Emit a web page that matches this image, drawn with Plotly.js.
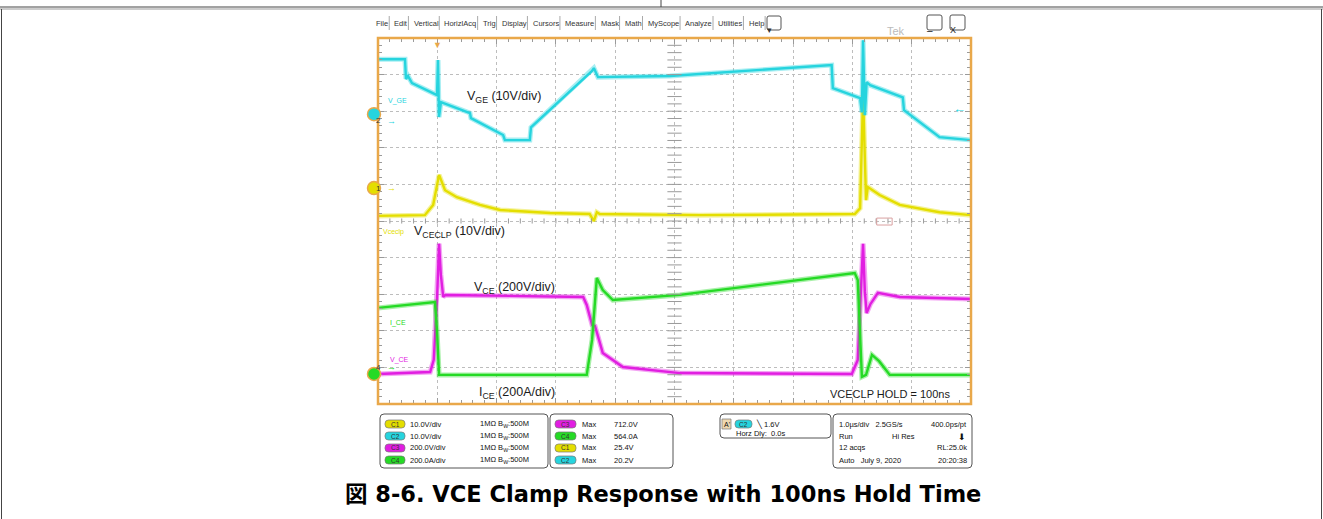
<!DOCTYPE html>
<html><head><meta charset="utf-8">
<script src="https://cdn.plot.ly/plotly-3.0.1.min.js"></script>
<style>html,body{margin:0;padding:0;background:#fff;}#chart{width:1323px;height:519px;}</style>
</head><body><div id="chart"></div>
<script>
// ---------------- data ----------------
// horizontal: 1.0 us/div, trigger one division from the left edge
const timeRange = [-1, 9];
// channels: C1 = Vceclp, C2 = V_GE, C3 = V_CE, C4 = I_CE
const channelNames   = ['1', '2', '3', '4'];
const channelLabels  = ['Vceclp', 'V_GE', 'V_CE', 'I_CE'];
const channelScales  = [10, 10, 200, 200];          // units per division
const channelOffsets = [0.90, 2.92, -4.18, -4.18];  // ground position (div from centre)
const channelColors  = ['#E4DE00', '#26D4DE', '#E11EE1', '#25DA25'];
const triggerLevel = 1.6; // V on C2

// C2: V_GE (V)
const vgeTime  = [-1.0, -0.545, -0.528, -0.494, -0.427, -0.005, 0.012, 0.029, 0.062, 0.551, 0.568, 1.11, 1.14, 1.56, 1.58, 2.61, 2.64, 2.71, 3.92, 6.65, 6.67, 7.13, 7.16, 7.18, 7.21, 7.24, 7.30, 7.85, 7.87, 8.47, 9.0];
const vgeVolts = [15.0, 15.0, 9.6, 10.4, 8.5, 5.2, 14.8, -0.8, 3.3, 0.3, -1.1, -5.7, -7.1, -7.1, -3.6, 11.8, 12.6, 10.1, 10.4, 13.4, 7.1, 4.4, 0.5, 20.2, -0.3, 8.7, 7.9, 4.6, 1.1, -6.3, -7.1];
// C1: V_CECLP (V)
const vclpTime  = [-1.0, -0.21, -0.07, 0.03, 0.13, 0.33, 0.72, 1.06, 1.90, 2.57, 2.64, 2.69, 2.74, 4.43, 7.04, 7.13, 7.18, 7.23, 7.26, 7.46, 7.80, 8.47, 9.0];
const vclpVolts = [-7.6, -7.4, -4.6, 3.6, -0.6, -2.5, -4.6, -6.0, -6.8, -7.1, -9.0, -6.6, -7.1, -7.4, -7.1, -5.5, 25.4, -3.3, 0.3, -1.9, -4.6, -6.6, -7.4];
// C3: V_CE (V)
const vceTime  = [-1.0, -0.12, -0.06, -0.005, 0.03, 0.06, 0.10, 0.14, 2.46, 2.52, 2.61, 2.66, 2.79, 3.13, 4.09, 6.99, 7.09, 7.18, 7.21, 7.24, 7.30, 7.43, 7.80, 9.0];
const vceVolts = [0, 11, 77, 404, 712, 541, 421, 432, 421, 377, 268, 262, 115, 38, 5, 0, 77, 712, 450, 333, 380, 443, 421, 410];
// C4: I_CE (A)
const iceTime = [-1.0, -0.04, -0.005, 0.03, 2.52, 2.61, 2.69, 2.79, 2.96, 4.09, 7.04, 7.09, 7.16, 7.23, 7.33, 7.45, 7.63, 9.0];
const iceAmps = [361, 393, 240, -5, -5, 186, 525, 459, 404, 432, 552, 514, -16, -5, 104, 70, -5, -5];

// annotation texts
const waveLabels = ['V<sub>GE</sub> (10V/div)', 'V<sub>CECLP</sub> (10V/div)', 'V<sub>CE</sub> (200V/div)', 'I<sub>CE</sub> (200A/div)', 'VCECLP HOLD = 100ns'];
const menuItems = ['File', 'Edit', 'Vertical', 'HorizlAcq', 'Trig', 'Display', 'Cursors', 'Measure', 'Mask', 'Math', 'MyScope', 'Analyze', 'Utilities', 'Help'];
const vertSettings = ['10.0V/div', '10.0V/div', '200.0V/div', '200.0A/div'];
const measChannels = ['C3', 'C4', 'C1', 'C2'];
const measValues = ['712.0V', '564.0A', '25.4V', '20.2V'];
const caption = '図 8-6. VCE Clamp Response with 100ns Hold Time';

// ---------------- layout helpers ----------------
const W = 1323, H = 519, L = 378, R = 971, T = 38, B = 404;
const PX = x => (x - L) / (R - L);
const PY = y => (B - y) / (B - T);
const FONT = 'Liberation Sans, Arial, sans-serif';
const ORANGE = '#E9A84A';

const traces = [];
const axisOf = i => 'y' + (i + 2);
function addWave(t, v, ch) {
  traces.push({x: t, y: v, yaxis: axisOf(ch), type: 'scatter', mode: 'lines', hoverinfo: 'skip',
    line: {color: channelColors[ch], width: 5}, opacity: 0.4});
  traces.push({x: t, y: v, yaxis: axisOf(ch), type: 'scatter', mode: 'lines', hoverinfo: 'skip',
    line: {color: channelColors[ch], width: 2.4}});
}
addWave(vgeTime, vgeVolts, 1);
addWave(vclpTime, vclpVolts, 0);
addWave(vceTime, vceVolts, 2);
addWave(iceTime, iceAmps, 3);

const layout = {
  width: W, height: H, margin: {l: L, r: W - R, t: T, b: H - B, pad: 0},
  paper_bgcolor: '#fff', plot_bgcolor: '#fff', showlegend: false,
  font: {family: FONT, color: '#222'},
  xaxis: {range: timeRange, tick0: 0, dtick: 1, showgrid: true, gridcolor: '#bdbdbd', griddash: 'dot', gridwidth: 1,
    zeroline: false, showticklabels: false, ticks: 'inside', ticklen: 6, tickcolor: '#9a9a9a', mirror: 'ticks', showline: false,
    minor: {tick0: 0, dtick: 0.2, ticks: 'inside', ticklen: 4, tickcolor: '#9a9a9a', showgrid: false}, fixedrange: true},
  yaxis: {range: [-5, 5], tick0: 0, dtick: 1, showgrid: true, gridcolor: '#bdbdbd', griddash: 'dot', gridwidth: 1,
    zeroline: false, showticklabels: false, ticks: 'inside', ticklen: 6, tickcolor: '#9a9a9a', mirror: 'ticks', showline: false,
    minor: {tick0: 0, dtick: 0.2, ticks: 'inside', ticklen: 4, tickcolor: '#9a9a9a', showgrid: false}, fixedrange: true},
  shapes: [], annotations: []
};
channelScales.forEach((s, i) => {
  layout['yaxis' + (i + 2)] = {overlaying: 'y', anchor: 'x', visible: false, fixedrange: true,
    range: [(-5 - channelOffsets[i]) * s, (5 - channelOffsets[i]) * s]};
});

const shapes = layout.shapes, ann = layout.annotations;
// centre crosshair ticks
for (let k = 0; k <= 50; k++) {
  const x = timeRange[0] + k * 0.2;
  shapes.push({type: 'line', xref: 'x', yref: 'y', x0: x, x1: x, y0: -0.07, y1: 0.07, line: {color: '#9a9a9a', width: 1}});
  const y = -5 + k * 0.2;
  shapes.push({type: 'line', xref: 'x', yref: 'y', x0: 3.88, x1: 4.12, y0: y, y1: y, line: {color: '#9a9a9a', width: 1}});
}
// orange graticule frame
shapes.push({type: 'rect', xref: 'paper', yref: 'paper', x0: 0, x1: 1, y0: 0, y1: 1, line: {color: ORANGE, width: 2.5}});
// horizontal position indicator
shapes.push({type: 'rect', xref: 'x', yref: 'y', x0: 7.41, x1: 7.67, y0: -0.11, y1: 0.08, line: {color: '#d9a0a0', width: 1}});
// trigger position marker
ann.push({xref: 'x', yref: 'paper', x: 0, y: 1, yanchor: 'top', showarrow: false, text: '▼', font: {size: 9, color: ORANGE}});
// trigger level arrow
ann.push({xref: 'x', yref: 'y3', x: 8.8, y: triggerLevel, showarrow: false, text: '←', font: {size: 13, color: channelColors[1]}});

// channel ground markers at the left edge (C3 hidden under C4)
[1, 0, 3].forEach(ch => {
  const yp = (channelOffsets[ch] + 5) / 10;
  shapes.push({type: 'circle', xref: 'paper', yref: 'paper', xsizemode: 'pixel', ysizemode: 'pixel', xanchor: PX(374), yanchor: yp,
    x0: -6.5, x1: 6.5, y0: -6.5, y1: 6.5, fillcolor: channelColors[ch], line: {color: ORANGE, width: 1.5}, layer: 'above'});
  ann.push({xref: 'paper', yref: 'paper', x: PX(374), y: yp, showarrow: false, text: channelNames[ch], font: {size: 8, color: '#333', family: FONT}});
  ann.push({xref: 'paper', yref: 'paper', x: PX(385), y: yp, showarrow: false, text: '→', font: {size: 9, color: channelColors[ch], family: FONT}});
});

// wave labels (position in div / us)
const waveLabelPos = [[0.47, 3.39], [-0.43, -0.30], [0.585, -1.83], [0.67, -4.70], [6.59, -4.73]];
const waveLabelSize = [12.5, 12.5, 12.5, 12.5, 11];
waveLabels.forEach((t, i) => ann.push({xref: 'x', yref: 'y', x: waveLabelPos[i][0], y: waveLabelPos[i][1], xanchor: 'left', yanchor: 'middle',
  showarrow: false, text: t, font: {size: waveLabelSize[i], color: '#1a1a1a', family: FONT}}));
// small channel names on screen
const chLabelPix = [[381, 232], [386, 101], [388, 360], [388, 323]];
channelLabels.forEach((t, i) => ann.push({xref: 'paper', yref: 'paper', x: PX(chLabelPix[i][0]), y: PY(chLabelPix[i][1]), xanchor: 'left', yanchor: 'middle',
  showarrow: false, text: t, font: {size: 7, color: channelColors[i], family: FONT}}));

// ---------------- page frame ----------------
function pline(x0, y0, x1, y1, c, w) {
  shapes.push({type: 'line', xref: 'paper', yref: 'paper', x0: PX(x0), x1: PX(x1), y0: PY(y0), y1: PY(y1), line: {color: c || '#333', width: w || 1}});
}
pline(0, 7, W, 7, '#444', 1);
pline(0, 9, W, 9, '#999', 1);
pline(661, 0, 661, 7, '#444', 1);
pline(1.5, 9, 1.5, H, '#444', 1);
pline(1321.5, 9, 1321.5, H, '#444', 1);

// ---------------- toolbar ----------------
const cv = document.createElement('canvas').getContext('2d');
cv.font = '7.5px Liberation Sans';
const widths = menuItems.map(m => cv.measureText(m).width);
const x0m = 374, x1m = 762;
const gap = (x1m - x0m - widths.reduce((a, b) => a + b, 0)) / (menuItems.length - 1);
let cx = x0m;
menuItems.forEach((m, i) => {
  ann.push({xref: 'paper', yref: 'paper', x: PX(cx), y: PY(23), xanchor: 'left', yanchor: 'middle', showarrow: false,
    text: m, font: {size: 7.5, color: '#333', family: FONT}});
  cx += widths[i];
  pline(cx + gap / 2, 16, cx + gap / 2, 30, '#aaa', 1);
  cx += gap;
});
function pbox(x0, y0, x1, y1, c, w, fill) {
  shapes.push({type: 'rect', xref: 'paper', yref: 'paper', x0: PX(x0), x1: PX(x1), y0: PY(y1), y1: PY(y0),
    line: {color: c || '#444', width: w || 1}, fillcolor: fill || 'rgba(0,0,0,0)'});
}
function rbox(x0, y0, x1, y1, r, c, w, fill) {
  const p = (x, y) => PX(x) + ',' + PY(y);
  const d = 'M' + p(x0 + r, y0) + ' L' + p(x1 - r, y0) + ' Q' + p(x1, y0) + ' ' + p(x1, y0 + r) +
    ' L' + p(x1, y1 - r) + ' Q' + p(x1, y1) + ' ' + p(x1 - r, y1) + ' L' + p(x0 + r, y1) + ' Q' + p(x0, y1) + ' ' + p(x0, y1 - r) +
    ' L' + p(x0, y0 + r) + ' Q' + p(x0, y0) + ' ' + p(x0 + r, y0) + ' Z';
  shapes.push({type: 'path', xref: 'paper', yref: 'paper', path: d, line: {color: c || '#444', width: w || 1}, fillcolor: fill || 'rgba(0,0,0,0)'});
}
rbox(767, 16, 781, 30, 2, '#555', 1);
ann.push({xref: 'paper', yref: 'paper', x: PX(774), y: PY(23), showarrow: false, text: '▾', font: {size: 9, color: '#333'}});
ann.push({xref: 'paper', yref: 'paper', x: PX(907), y: PY(23), showarrow: false, text: 'Tek', font: {size: 11, color: '#bbb', family: FONT}});
rbox(927, 15, 942, 30, 2, '#555', 1);
rbox(950, 15, 965, 30, 2, '#555', 1);
ann.push({xref: 'paper', yref: 'paper', x: PX(934.5), y: PY(23), showarrow: false, text: '–', font: {size: 10, color: '#222'}});
ann.push({xref: 'paper', yref: 'paper', x: PX(957.5), y: PY(23), showarrow: false, text: 'X', font: {size: 9, color: '#222', family: FONT}});

// ---------------- bottom status panel ----------------
rbox(380, 414, 548, 468, 4, '#555', 1);
rbox(550, 414, 673, 468, 4, '#555', 1);
rbox(720, 414, 831, 438, 4, '#555', 1);
rbox(833, 414, 972, 468, 4, '#555', 1);
const rows = [424, 436, 448, 460];
const pillColor = {C1: channelColors[0], C2: channelColors[1], C3: channelColors[2], C4: channelColors[3]};
function pill(x0, x1, y, name) {
  rbox(x0, y - 4, x1, y + 4, 3.5, '#777', 0.7, pillColor[name]);
  ann.push({xref: 'paper', yref: 'paper', x: PX((x0 + x1) / 2), y: PY(y), xanchor: 'center', yanchor: 'middle', showarrow: false,
    text: name, font: {size: 6.5, color: '#333', family: FONT}});
}
function txt(x, y, t, anchor, size) {
  ann.push({xref: 'paper', yref: 'paper', x: PX(x), y: PY(y), xanchor: anchor || 'left', yanchor: 'middle', showarrow: false,
    text: t, font: {size: size || 7.5, color: '#111', family: FONT}});
}
['C1', 'C2', 'C3', 'C4'].forEach((c, i) => {
  pill(385, 405, rows[i], c);
  txt(408, rows[i], vertSettings[i]);
  txt(478, rows[i], '1MΩ B<sub>W</sub>:500M');
  pill(555, 576, rows[i], measChannels[i]);
  txt(580, rows[i], 'Max');
  txt(612, rows[i], measValues[i]);
});
pbox(722, 419, 731, 429, '#777', 0.7, '#eed8b0');
txt(726.5, 424, 'A\'', 'center', 7);
pill(735, 752, 424, 'C2');
txt(754, 424, '╲ 1.6V');
txt(734, 433, 'Horz Dly:  0.0s');
txt(837, 424, '1.0µs/div   2.5GS/s');
txt(969, 424, '400.0ps/pt', 'right');
txt(837, 436, 'Run');
txt(890, 436, 'Hi Res');
txt(962, 437, '⬇', 'center', 9);
txt(837, 448, '12 acqs');
txt(969, 448, 'RL:25.0k', 'right');
txt(837, 460, 'Auto   July 9, 2020');
txt(969, 460, '20:20:38', 'right');

// ---------------- caption ----------------
ann.push({xref: 'paper', yref: 'paper', x: PX(663), y: PY(494), xanchor: 'center', yanchor: 'middle', showarrow: false,
  text: '<b>' + caption + '</b>', font: {size: 22.5, color: '#000', family: 'DejaVu Sans, Liberation Sans, Noto Sans CJK JP'}});

Plotly.newPlot('chart', traces, layout, {staticPlot: true, displayModeBar: false});
</script></body></html>
